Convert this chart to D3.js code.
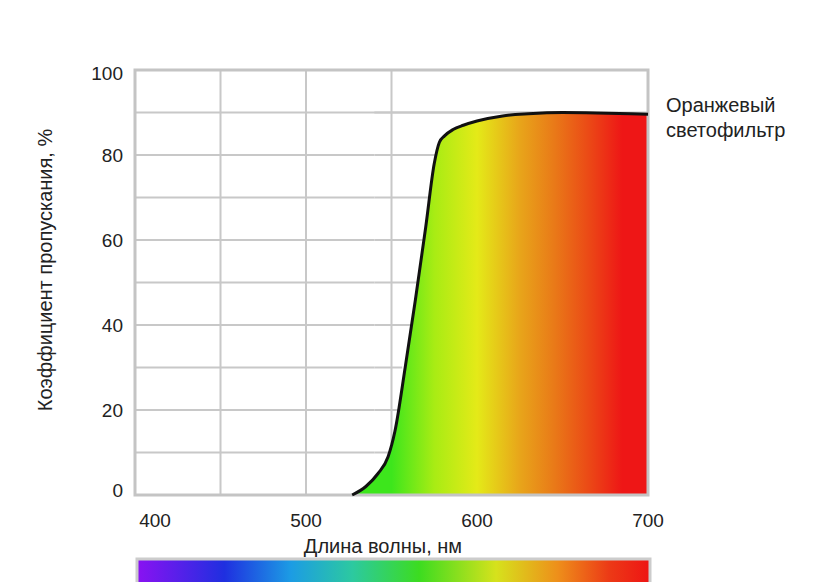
<!DOCTYPE html>
<html><head><meta charset="utf-8">
<script src="https://cdn.jsdelivr.net/npm/d3@7"></script>
<style>body{margin:0;background:#fff;font-family:"Liberation Sans",Arial,sans-serif;}</style>
</head><body><div id="chart"></div>
<script>
// data
const wavelengths = [527, 535, 542, 548, 552, 558, 564, 570, 575, 578, 581, 586, 592, 600, 615, 630, 650, 670, 690, 700];
const transmission = [0, 2, 5, 9, 15, 30, 46, 63, 78, 83, 84.5, 86, 87, 88, 89.2, 89.7, 90, 89.9, 89.7, 89.6];
const xTicks = [400, 500, 600, 700];
const yTicks = [0, 20, 40, 60, 80, 100];
const fillStops = [[550, "#3de61c"], [575, "#a8ec14"], [600, "#e4ea18"], [625, "#e8a51a"], [645, "#e97a18"], [665, "#eb4a16"], [685, "#ee1616"]];
const spectrumStops = [[0, "#8a12f2"], [0.17, "#1f2fe0"], [0.3, "#1c9ce4"], [0.42, "#2cc9a0"], [0.55, "#3cdc20"], [0.7, "#d6e21c"], [0.82, "#ee8f1a"], [0.92, "#ec3a16"], [1, "#ee1414"]];

const W = 824, H = 582;
const margin = { top: 70, left: 135 };
const width = 513, height = 425;

const svg = d3.select("#chart").append("svg").attr("width", W).attr("height", H);
const g = svg.append("g").attr("transform", "translate(" + margin.left + "," + margin.top + ")");

const x = d3.scaleLinear().domain([400, 700]).range([0, width]);
const y = d3.scaleLinear().domain([0, 100]).range([height, 0]);

// gradient for area under curve
const defs = svg.append("defs");
const grad = defs.append("linearGradient").attr("id", "fillGrad")
    .attr("gradientUnits", "userSpaceOnUse")
    .attr("x1", x(400)).attr("x2", x(700)).attr("y1", 0).attr("y2", 0);
grad.selectAll("stop").data(fillStops).enter().append("stop")
    .attr("offset", d => (d[0] - 400) / 300)
    .attr("stop-color", d => d[1]);

const pts = wavelengths.map((w, i) => ({ w: w, t: transmission[i] }));

const area = d3.area().x(d => x(d.w)).y0(height).y1(d => y(d.t)).curve(d3.curveMonotoneX);
g.append("path").datum(pts).attr("d", area).attr("fill", "url(#fillGrad)");

// grid
g.selectAll(".vg").data(d3.range(400, 701, 50)).enter().append("line")
    .attr("x1", d => x(d)).attr("x2", d => x(d)).attr("y1", 0).attr("y2", height)
    .attr("stroke", "#c8c8c8").attr("stroke-width", 2)
    .attr("opacity", d => d >= 550 && d < 700 ? 0 : 1);
g.selectAll(".hg").data(d3.range(0, 101, 10)).enter().append("line")
    .attr("x1", 0).attr("x2", d => d > 85 ? width : x(540))
    .attr("y1", d => y(d)).attr("y2", d => y(d))
    .attr("stroke", "#c8c8c8").attr("stroke-width", 2);
// redraw grid only outside colored area
g.selectAll(".hg2").data(d3.range(10, 91, 10)).enter().append("line")
    .attr("x1", x(540)).attr("x2", d => {
        const p = pts.find(q => q.t >= d);
        return x(p ? p.w : 700) - 3;
    })
    .attr("y1", d => y(d)).attr("y2", d => y(d))
    .attr("stroke", "#c8c8c8").attr("stroke-width", 2);
g.selectAll(".vg2").data([550]).enter().append("line")
    .attr("x1", d => x(d)).attr("x2", d => x(d)).attr("y1", 0).attr("y2", y(12))
    .attr("stroke", "#c8c8c8").attr("stroke-width", 2);
g.append("path").datum(pts).attr("d", area).attr("fill", "url(#fillGrad)");
g.append("rect").attr("width", width).attr("height", height)
    .attr("fill", "none").attr("stroke", "#c4c4c4").attr("stroke-width", 3);

// curve
const line = d3.line().x(d => x(d.w)).y(d => y(d.t)).curve(d3.curveMonotoneX);
g.append("path").datum(pts).attr("d", line).attr("fill", "none")
    .attr("stroke", "#111").attr("stroke-width", 3);

// axes labels
g.selectAll(".yt").data(yTicks).enter().append("text")
    .attr("x", -12).attr("y", d => y(d) + 7 - (d === 100 ? -3 : 0) - (d === 0 ? 5 : 0))
    .attr("text-anchor", "end").attr("font-size", 19).attr("fill", "#222")
    .text(d => d);
g.selectAll(".xt").data(xTicks).enter().append("text")
    .attr("x", d => x(d) + (d === 400 ? 20 : 0)).attr("y", height + 32)
    .attr("text-anchor", "middle").attr("font-size", 19).attr("fill", "#222")
    .text(d => d);
g.append("text").attr("x", x(545)).attr("y", height + 58)
    .attr("text-anchor", "middle").attr("font-size", 20).attr("fill", "#222")
    .text("Длина волны, нм");
svg.append("text").attr("transform", "translate(52,270) rotate(-90)")
    .attr("text-anchor", "middle").attr("font-size", 20).attr("fill", "#222")
    .text("Коэффициент пропускания, %");

// legend
svg.append("text").attr("x", 666).attr("y", 112).attr("font-size", 20).attr("fill", "#222").text("Оранжевый");
svg.append("text").attr("x", 666).attr("y", 137).attr("font-size", 20).attr("fill", "#222").text("светофильтр");

// spectrum bar
const sg = defs.append("linearGradient").attr("id", "specGrad");
sg.selectAll("stop").data(spectrumStops).enter().append("stop")
    .attr("offset", d => d[0]).attr("stop-color", d => d[1]);
svg.append("rect").attr("x", 137).attr("y", 559).attr("width", 513).attr("height", 30)
    .attr("fill", "url(#specGrad)").attr("stroke", "#ccc").attr("stroke-width", 3);
</script></body></html>
